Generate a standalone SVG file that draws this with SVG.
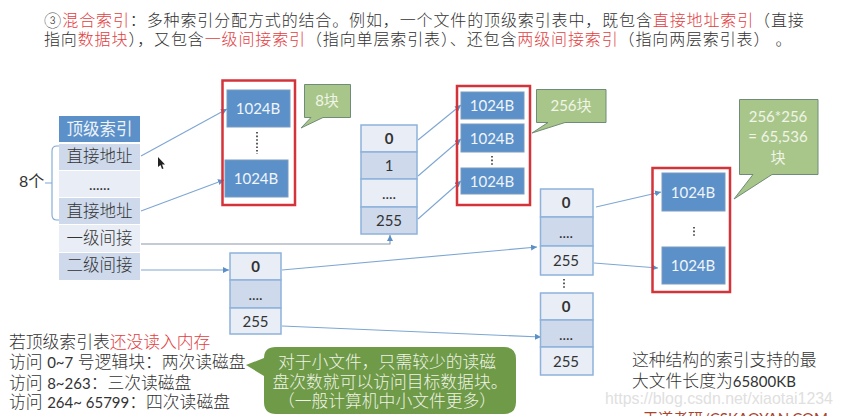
<svg xmlns="http://www.w3.org/2000/svg" width="841" height="416" viewBox="0 0 841 416">
<defs>
<marker id="ah" markerWidth="7" markerHeight="7" refX="6" refY="3" orient="auto" markerUnits="userSpaceOnUse"><path d="M0,0L6,3L0,6Z" fill="#5b8fc7"/></marker>
</defs>
<style>
text{font-family:Lato,"Noto Sans CJK SC",sans-serif;fill:#333}
.c{text-anchor:middle}
.r{fill:#e2403f}
.hd{fill:#5b90c9}
.dk{fill:#cedaec}
.lt{fill:#e8edf6}
.cell{stroke:#8fb2da;stroke-width:1.5}
.blk{fill:#5b90c9;stroke:#7a9cc0;stroke-width:1}
.blkt{fill:#f0f5fa;font-size:15px;text-anchor:middle}
.red{fill:none;stroke:#d4333a;stroke-width:2.5}
.call{fill:#a9c68a;stroke:#6f8c78;stroke-width:1}
.callt{fill:#f0f5e8;font-size:15px;text-anchor:middle}
.cn{fill:none;stroke:#7ea6d3;stroke-width:1.1;marker-end:url(#ah)}
.t{font-size:16px;font-weight:300}
.b{font-size:16.8px;font-weight:300}
.l{font-size:15px;font-weight:400}
.tb{font-size:16.5px;text-anchor:middle;font-weight:300}
.n{font-size:15px;text-anchor:middle}
.bold{font-weight:700}
.dots{stroke:#333;stroke-width:1.6;stroke-dasharray:1.6 2;fill:none}
.g{fill:#eef3e6;font-size:16.8px;text-anchor:middle;font-weight:300}
</style>
<rect width="841" height="416" fill="#fff"/>

<g id="heading">
<text class="t" x="44" y="26" letter-spacing="0.87">③<tspan class="r">混合索引</tspan>&#xFF1A;多种索引分配方式的结合。例如&#xFF0C;一个文件的顶级索引表中&#xFF0C;既包含<tspan class="r">直接地址索引</tspan>&#xFF08;直接</text>
<text class="t" x="44" y="45" letter-spacing="0.87">指向<tspan class="r">数据块</tspan>&#xFF09;&#xFF0C;又包含<tspan class="r">一级间接索引</tspan>&#xFF08;指向单层索引表&#xFF09;、还包含<tspan class="r">两级间接索引</tspan>&#xFF08;指向两层索引表&#xFF09; 。</text>
</g>

<g id="connectors">
<line class="cn" x1="141" y1="156" x2="227" y2="109"/>
<line class="cn" x1="141" y1="211" x2="224" y2="180"/>
<path class="cn" d="M141,244H390V235" style="stroke:#8a97a8"/>
<line class="cn" x1="141" y1="270" x2="229" y2="270"/>
<line class="cn" x1="418" y1="140" x2="461" y2="105"/>
<line class="cn" x1="418" y1="176" x2="461" y2="139"/>
<line class="cn" x1="418" y1="219" x2="461" y2="181"/>
<line class="cn" x1="282" y1="270" x2="537" y2="247"/>
<line class="cn" x1="282" y1="326" x2="541" y2="337"/>
<line class="cn" x1="596" y1="207" x2="661" y2="192"/>
<line class="cn" x1="594" y1="263" x2="658" y2="268"/>
<path d="M59,146H57Q52,146 52,151V215Q52,220 57,220H59M45,183H52" fill="none" stroke="#7ea6d3" stroke-width="1.1"/>
</g>

<g id="top-index">
<rect class="hd" x="59" y="116" width="81" height="26"/>
<text class="c" x="99.500" y="135" font-size="16.5" style="fill:#eef3fa">顶级索引</text>
<rect class="dk" x="59" y="144" width="81" height="26"/>
<text class="tb" x="99.500" y="162">直接地址</text>
<rect class="lt" x="59" y="171" width="81" height="26"/>
<text class="n" x="99.500" y="190">......</text>
<rect class="dk" x="59" y="198" width="81" height="26"/>
<text class="tb" x="99.500" y="217">直接地址</text>
<rect class="lt" x="59" y="225" width="81" height="27"/>
<text class="tb" x="99.500" y="244">一级间接</text>
<rect class="dk" x="59" y="253" width="81" height="27"/>
<text class="tb" x="99.500" y="271">二级间接</text>
</g>
<g id="label-8"><text x="19" y="187" font-size="16">8个</text></g>

<g id="direct-blocks">
<rect class="red" x="222.500" y="80.500" width="72.500" height="124.500"/>
<rect class="blk" x="227" y="90" width="63" height="37"/>
<text class="blkt" x="258" y="114">1024B</text>
<path class="dots" d="M257,132V154"/>
<rect class="blk" x="225" y="160" width="63" height="37"/>
<text class="blkt" x="256" y="184">1024B</text>
</g>
<g id="callout-8">
<path class="call" d="M304.500,84.500H350.500V117.500H323L301,128L311,117.500H304.500Z"/>
<text class="callt" x="327" y="106">8块</text>
</g>

<g id="single-index">
<rect class="lt cell" x="361" y="125" width="56" height="27"/>
<text class="n bold" x="389" y="144">0</text>
<rect class="dk cell" x="361" y="152" width="56" height="27"/>
<text class="n" x="389" y="171">1</text>
<rect class="lt cell" x="361" y="179" width="56" height="28"/>
<text class="n" x="389" y="199">....</text>
<rect class="dk cell" x="361" y="207" width="56" height="27"/>
<text class="n" x="389" y="226">255</text>
</g>

<g id="single-blocks">
<rect class="red" x="457" y="86" width="73" height="119"/>
<rect class="blk" x="461" y="92" width="63" height="27"/>
<text class="blkt" x="492" y="111">1024B</text>
<rect class="blk" x="461" y="124" width="63" height="28"/>
<text class="blkt" x="492" y="144">1024B</text>
<path class="dots" d="M492,156V166"/>
<rect class="blk" x="461" y="168" width="63" height="26"/>
<text class="blkt" x="492" y="187">1024B</text>
</g>
<g id="callout-256">
<path class="call" d="M536.500,89.500H606V122.500H565L532,133L548,122.500H536.500Z"/>
<text class="callt" x="571" y="111">256块</text>
</g>

<g id="double-index-1">
<rect class="lt cell" x="230" y="253" width="51" height="27"/>
<text class="n bold" x="255.500" y="272">0</text>
<rect class="dk cell" x="230" y="280" width="51" height="28"/>
<text class="n" x="255.500" y="300">....</text>
<rect class="lt cell" x="230" y="308" width="51" height="26"/>
<text class="n" x="255.500" y="327">255</text>
</g>

<g id="double-index-2a">
<rect class="lt cell" x="540.500" y="189" width="52.500" height="28"/>
<text class="n bold" x="566" y="208">0</text>
<rect class="dk cell" x="540.500" y="217" width="52.500" height="29"/>
<text class="n" x="566" y="238">....</text>
<rect class="lt cell" x="540.500" y="246" width="52.500" height="29"/>
<text class="n" x="566" y="266">255</text>
</g>
<path class="dots" d="M564,279V288"/>
<g id="double-index-2b">
<rect class="lt cell" x="540.500" y="293" width="52.500" height="27"/>
<text class="n bold" x="566" y="312">0</text>
<rect class="dk cell" x="540.500" y="320" width="52.500" height="27"/>
<text class="n" x="566" y="340">....</text>
<rect class="lt cell" x="540.500" y="347" width="52.500" height="28"/>
<text class="n" x="566" y="367">255</text>
</g>

<g id="double-blocks">
<rect class="red" x="652.500" y="168" width="77.500" height="124"/>
<rect class="blk" x="662" y="173" width="63" height="38"/>
<text class="blkt" x="693" y="198">1024B</text>
<path class="dots" d="M694,227V236"/>
<rect class="blk" x="662" y="247" width="63" height="37"/>
<text class="blkt" x="693" y="271">1024B</text>
</g>
<g id="callout-65536">
<path class="call" d="M739.500,99.500H818V174.500H772L734,199L753,174.500H739.500Z"/>
<text class="callt" x="778" y="122">256*256</text>
<text class="callt" x="778" y="142">= 65,536</text>
<text class="callt" x="778" y="163">块</text>
</g>

<g id="read-notes">
<text class="b" x="9" y="348">若顶级索引表<tspan class="r">还没读入内存</tspan></text>
<text class="b" x="9" y="368">访问 <tspan class="l">0~7</tspan> 号逻辑块&#xFF1A;两次读磁盘</text>
<text class="b" x="9" y="389">访问 <tspan class="l">8~263</tspan>&#xFF1A;三次读磁盘</text>
<text class="b" x="9" y="408">访问 <tspan class="l">264~ 65799</tspan>&#xFF1A;四次读磁盘</text>
</g>

<g id="small-file-callout">
<path d="M276,347H504Q516,347 516,359V402Q516,414 504,414H276Q264,414 264,402V376L246,365L264,358Q264,347 276,347Z" fill="#6f9a47"/>
<text class="g" x="387" y="368">对于小文件&#xFF0C;只需较少的读磁</text>
<text class="g" x="390" y="388">盘次数就可以访问目标数据块。</text>
<text class="g" x="387" y="407">&#xFF08;一般计算机中小文件更多&#xFF09;</text>
</g>

<g id="max-note">
<text class="b" x="632" y="366">这种结构的索引支持的最</text>
<text class="b" x="632" y="387">大文件长度为<tspan class="l">65800KB</tspan></text>
</g>

<g id="marks">
<path d="M158,157V167L160.500,165L162,169L163.500,168.500L162,164.500L165,164.500Z" fill="#222"/>
<text x="605" y="404" style="font-family:'Liberation Sans',sans-serif;fill:#e0e0e0" font-size="15.900">https://blog.csdn.net/xiaotai1234</text>
<text x="643" y="424" font-size="15" style="fill:#a8432c">王道考研/CSKAOYAN.COM</text>
</g>
</svg>
